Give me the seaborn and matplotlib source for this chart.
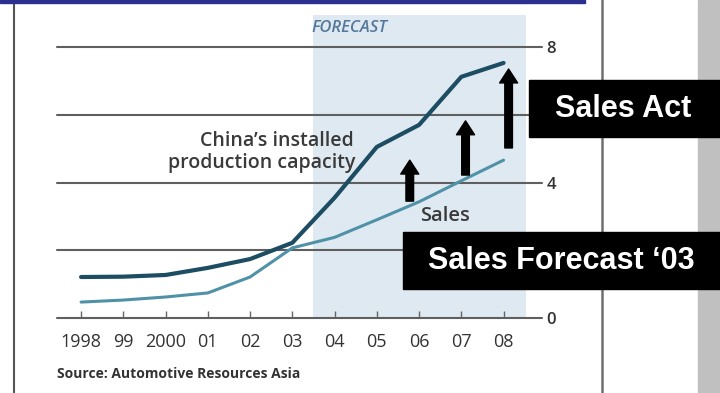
import matplotlib
matplotlib.use("Agg")
import matplotlib.pyplot as plt
from matplotlib.patches import Rectangle
from matplotlib.lines import Line2D
import seaborn as sns
import pandas as pd

# ---------------- data ----------------
years = [1998, 1999, 2000, 2001, 2002, 2003, 2004, 2005, 2006, 2007, 2008]
year_labels = ["1998", "99", "2000", "01", "02", "03", "04", "05", "06", "07", "08"]
capacity = [1.21, 1.22, 1.27, 1.48, 1.74, 2.22, 3.55, 5.05, 5.70, 7.12, 7.53]
sales = [0.47, 0.53, 0.62, 0.74, 1.21, 2.07, 2.38, 2.90, 3.43, 4.05, 4.66]
y_ticks = [0, 4, 8]
grid_levels = [0, 2, 4, 6, 8]
forecast_span = (2003.48, 2008.54)
# arrows: x, start value, end value
arrow_x = [2005.78, 2007.10, 2008.12]
arrow_from = [3.45, 4.22, 5.02]
arrow_to = [4.66, 5.82, 7.35]

df = pd.DataFrame({
    "year": years * 2,
    "value": capacity + sales,
    "series": ["capacity"] * len(years) + ["sales"] * len(years),
})

sns.set_style("white")
plt.rcParams["font.family"] = ["Open Sans", "DejaVu Sans"]

W, H = 720, 393
fig = plt.figure(figsize=(7.2, 3.93), dpi=100)
fig.patch.set_facecolor("white")

def fx(px):
    return px / W

def fy(py):
    return 1 - py / H

ax = fig.add_axes([fx(57), fy(318), fx(542) - fx(57), fy(15) - fy(318)])
ax.set_facecolor("none")
xlim = (1997.43, 2008.91)
ylim = (0, 8.945)
ax.set_xlim(*xlim)
ax.set_ylim(*ylim)

# forecast shading
ax.fill_between(list(forecast_span), 0, ylim[1], color="#dfe9f1", zorder=0, lw=0)

# gridlines
for g in grid_levels:
    ax.axhline(g, color="#5f5f5f", lw=1.5, zorder=1, clip_on=False)

palette = {"capacity": "#1c4d62", "sales": "#4f92a7"}
sns.lineplot(data=df, x="year", y="value", hue="series", palette=palette,
             legend=False, ax=ax, zorder=3)
lines = ax.get_lines()[-2:]
for ln, lw in zip(lines, [3.0, 2.2]):
    ln.set_linewidth(lw)
    ln.set_solid_capstyle("round")
    ln.set_solid_joinstyle("round")

# arrows
for x, a, b in zip(arrow_x, arrow_from, arrow_to):
    ax.annotate("", xy=(x, b), xytext=(x, a),
                arrowprops=dict(facecolor="black", edgecolor="black",
                                width=5.5, headwidth=13, headlength=10, shrink=0),
                zorder=5)

# ticks
for s in ax.spines.values():
    s.set_visible(False)
ax.set_xticks(years)
ax.set_xticklabels(year_labels)
ax.tick_params(axis="x", direction="in", length=5, width=1, color="#666666",
               labelsize=13, labelcolor="#333333", pad=11, bottom=True)
ax.yaxis.tick_right()
ax.set_yticks(y_ticks)
ax.set_yticklabels([str(v) for v in y_ticks])
ax.tick_params(axis="y", length=0, labelsize=12, labelcolor="#333333", pad=3)
for lab in ax.get_yticklabels():
    lab.set_fontweight("semibold")
ax.set_xlabel("")
ax.set_ylabel("")

# texts inside chart
ax.text(2004.35, 8.55, "FORECAST", fontsize=12, style="italic", color="#56789a",
        ha="center", va="center", weight="semibold")
fig.text(fx(354), fy(146), "China\u2019s installed", fontsize=14, color="#3a3a3a",
         ha="right", va="baseline", weight="semibold")
fig.text(fx(356), fy(168), "production capacity", fontsize=14, color="#3a3a3a",
         ha="right", va="baseline", weight="semibold")
fig.text(fx(420), fy(216), "Sales", fontsize=14.5, color="#3a3a3a", ha="left", va="center",
         weight="semibold")
fig.text(fx(57), fy(374), "Source: Automotive Resources Asia", fontsize=10,
         color="#333333", ha="left", va="center", weight="bold")

# frame decorations
fig.patches.append(Rectangle((fx(698), 0), fx(720) - fx(698), 1, transform=fig.transFigure,
                             color="#c0c0c0", zorder=0))
fig.patches.append(Rectangle((0, fy(3)), fx(585), fy(0) - fy(3), transform=fig.transFigure,
                             color="#2c2f8e", zorder=2))
fig.lines.append(Line2D([fx(14), fx(14)], [0, fy(3)], transform=fig.transFigure,
                        color="#555555", lw=1.5))
fig.lines.append(Line2D([fx(602), fx(602)], [0, 1], transform=fig.transFigure,
                        color="#707070", lw=1.8))

# black label boxes
fig.patches.append(Rectangle((fx(529), fy(137)), fx(720) - fx(529), fy(80) - fy(137),
                             transform=fig.transFigure, color="black", zorder=5))
fig.text(fx(623), fy(109), "Sales Act", fontsize=22, color="white", weight="bold",
         family=["Liberation Sans", "DejaVu Sans"], ha="center", va="center", zorder=6)
fig.patches.append(Rectangle((fx(403), fy(289)), fx(720) - fx(403), fy(232) - fy(289),
                             transform=fig.transFigure, color="black", zorder=5))
fig.text(fx(561), fy(261), "Sales Forecast \u201803", fontsize=22, color="white", weight="bold",
         family=["Liberation Sans", "DejaVu Sans"], ha="center", va="center", zorder=6)

fig.savefig("out.png", dpi=100)
